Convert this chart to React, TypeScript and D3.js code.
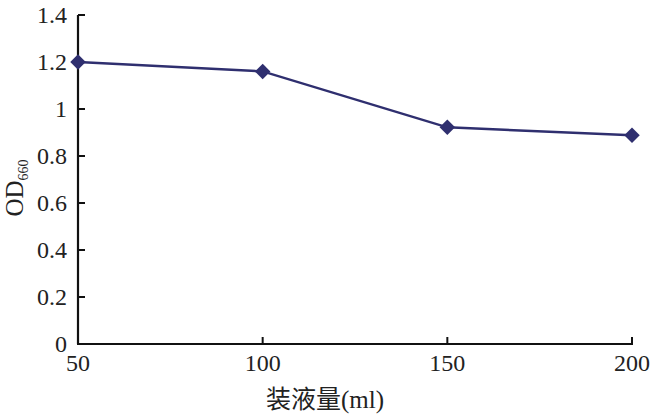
import React from "react";
import * as d3 from "d3";

const volumes = [50, 100, 150, 200];
const od660 = [1.2, 1.16, 0.922, 0.888];
const xTicks = [50, 100, 150, 200];
const yTicks = [0, 0.2, 0.4, 0.6, 0.8, 1, 1.2, 1.4];
const xLabel = "装液量(ml)";

const W = 663;
const H = 415;
const LINE = "#2f2f6f";
const FONT = "Liberation Serif, DejaVu Serif, Noto Sans CJK SC, serif";
const txt = { fontFamily: FONT };

export default function App() {
  const x = d3.scaleLinear().domain([50, 200]).range([78, 632]);
  const y = d3.scaleLinear().domain([0, 1.4]).range([344, 15]);
  const data = volumes.map((v, i) => ({ v, o: od660[i] }));
  const line = d3
    .line<{ v: number; o: number }>()
    .x((d) => x(d.v))
    .y((d) => y(d.o));
  const diamond = d3.symbol().type(d3.symbolSquare).size(120)();

  return (
    <svg
      width={W}
      height={H}
      style={{ position: "absolute", left: 0, top: 0, background: "#fff" }}
    >
      <rect width={W} height={H} fill="#fff" />
      <line x1={x(50)} x2={x(50)} y1={y(1.4)} y2={y(0)} stroke="#111" strokeWidth={2.2} />
      <line x1={x(50) - 1} x2={x(200) + 1} y1={y(0)} y2={y(0)} stroke="#111" strokeWidth={2.2} />
      {yTicks.map((t) => (
        <g key={"y" + t}>
          {t > 0 && (
            <line x1={x(50)} x2={x(50) + 7} y1={y(t)} y2={y(t)} stroke="#111" strokeWidth={2} />
          )}
          <text x={67} y={y(t)} dy="0.35em" textAnchor="end" fontSize={24} fill="#222" style={txt}>
            {String(t)}
          </text>
        </g>
      ))}
      {xTicks.map((t) => (
        <g key={"x" + t}>
          {t > 50 && (
            <line x1={x(t)} x2={x(t)} y1={y(0)} y2={y(0) - 7} stroke="#111" strokeWidth={2} />
          )}
          <text x={x(t)} y={371} textAnchor="middle" fontSize={24} fill="#222" style={txt}>
            {String(t)}
          </text>
        </g>
      ))}
      <path d={line(data) || ""} fill="none" stroke={LINE} strokeWidth={2.5} />
      {data.map((d) => (
        <path
          key={"m" + d.v}
          d={diamond || ""}
          transform={`translate(${x(d.v)},${y(d.o)}) rotate(45)`}
          fill={LINE}
        />
      ))}
      <text x={325} y={408} textAnchor="middle" fontSize={25} fill="#222" style={txt}>
        {xLabel}
      </text>
      <text
        transform={`translate(23,${188}) rotate(-90)`}
        textAnchor="middle"
        fontSize={25}
        fill="#222"
        style={txt}
      >
        OD
        <tspan fontSize={14} dy={5}>
          660
        </tspan>
      </text>
    </svg>
  );
}
